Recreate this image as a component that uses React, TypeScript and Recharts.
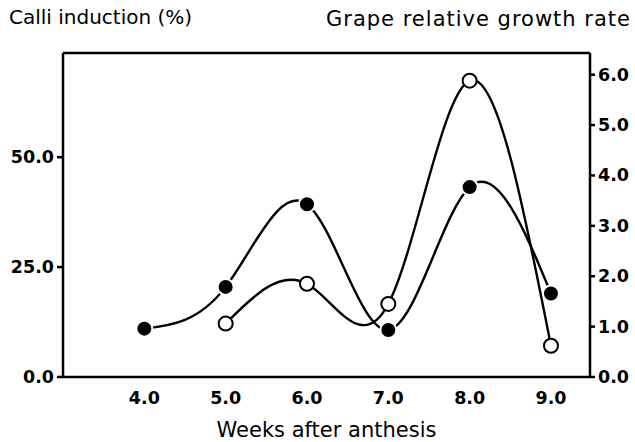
import { LineChart, Line, XAxis, YAxis, ReferenceLine } from "recharts";

const weeks = [4.0, 5.0, 6.0, 7.0, 8.0, 9.0];
const calliInduction = [11.0, 20.5, 39.3, 10.7, 43.2, 19.0];
const growthRate = [null, 1.06, 1.85, 1.45, 5.88, 0.62];

const xTicks = [4, 5, 6, 7, 8, 9];
const leftTicks = [0, 25, 50];
const rightTicks = [0, 1, 2, 3, 4, 5, 6];

const data = weeks.map((w, i) => ({
  week: w,
  calli: calliInduction[i],
  growth: growthRate[i],
}));

const FONT = "'DejaVu Sans', sans-serif";
const fmt = (v: number) => v.toFixed(1);

// custom tick so font settings really apply
const makeTick = (anchor: "start" | "middle" | "end", dx: number, dy: number) => (props: any) => {
  const { x, y, payload } = props;
  return (
    <text
      x={x + dx}
      y={y + dy}
      textAnchor={anchor}
      dominantBaseline="central"
      fontFamily={FONT}
      fontSize={17.5}
      fontWeight={700}
      fill="#000"
    >
      {fmt(payload.value)}
    </text>
  );
};

const App = () => {
  return (
    <div style={{ position: "absolute", left: 0, top: 0, width: 635, height: 442, background: "#fff" }}>
      <div style={{ position: "absolute", left: 9, top: 5, fontFamily: FONT, fontSize: 20, color: "#000" }}>
        Calli induction (%)
      </div>
      <div style={{ position: "absolute", right: 4, top: 7, fontFamily: FONT, fontSize: 21, letterSpacing: 1, color: "#000" }}>
        Grape relative growth rate
      </div>
      <LineChart width={635} height={442} data={data} margin={{ top: 53, right: 0, bottom: 0, left: 0 }}>
        <XAxis
          dataKey="week"
          type="number"
          domain={[3, 9.48]}
          ticks={xTicks}
          tick={makeTick("middle", 0, 13)}
          tickLine={false}
          height={65}
          axisLine={{ stroke: "#000", strokeWidth: 2.5 }}
          label={{ value: "Weeks after anthesis", position: "insideBottom", offset: 5, style: { fontFamily: FONT, fontSize: 21, fontWeight: 400, fill: "#000" } }}
        />
        <YAxis
          yAxisId="left"
          domain={[0, 73.7]}
          ticks={leftTicks}
          tick={makeTick("end", -1, 0)}
          width={63}
          tickSize={6}
          tickLine={{ stroke: "#000", strokeWidth: 2.5 }}
          axisLine={{ stroke: "#000", strokeWidth: 2.5 }}
          allowDataOverflow
        />
        <YAxis
          yAxisId="right"
          orientation="right"
          domain={[0, 6.43]}
          ticks={rightTicks}
          tick={makeTick("start", 1, 0)}
          width={45}
          tickSize={5}
          tickLine={{ stroke: "#000", strokeWidth: 2.5 }}
          axisLine={{ stroke: "#000", strokeWidth: 2.5 }}
          allowDataOverflow
        />
        <ReferenceLine yAxisId="left" y={73.7} stroke="#000" strokeWidth={2.5} ifOverflow="visible" />
        <Line
          yAxisId="left"
          type="natural"
          dataKey="calli"
          stroke="#000"
          strokeWidth={2.4}
          dot={{ r: 8, fill: "#000", stroke: "#fff", strokeWidth: 2 }}
          isAnimationActive={false}
        />
        <Line
          yAxisId="right"
          type="natural"
          dataKey="growth"
          stroke="#000"
          strokeWidth={2.4}
          dot={{ r: 7, fill: "#fff", stroke: "#000", strokeWidth: 2 }}
          isAnimationActive={false}
        />
      </LineChart>
    </div>
  );
};

export default App;
